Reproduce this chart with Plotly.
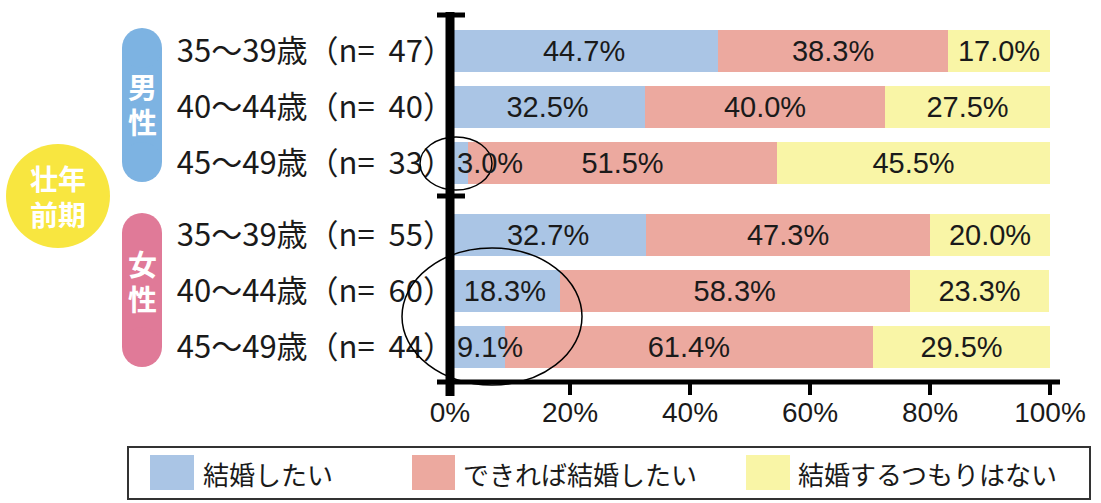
import plotly.graph_objects as go

# ---------------- data ----------------
groups = ["男性", "女性"]
ages = ["35〜39歳", "40〜44歳", "45〜49歳"]
n_counts = [[47, 40, 33], [55, 60, 44]]
series_names = ["結婚したい", "できれば結婚したい", "結婚するつもりはない"]
want = [44.7, 32.5, 3.0, 32.7, 18.3, 9.1]
if_possible = [38.3, 40.0, 51.5, 47.3, 58.3, 61.4]
no_intent = [17.0, 27.5, 45.5, 20.0, 23.3, 29.5]
x_ticks = [0, 20, 40, 60, 80, 100]
x_ticktext = ["0%", "20%", "40%", "60%", "80%", "100%"]
band_label = "壮年<br>前期"

colors = ["#aac5e5", "#eca99f", "#f9f5a6"]
pill_colors = ["#7db3e2", "#e07a98"]

# ---------------- layout geometry (pixels) ----------------
FW, FH = 1101, 503
L, R, T, B = 450, 1050, 15, 382
W, H = R - L, B - T
GAP = 0.29


def px(x):
    return (x - L) / W


def py(y):
    return (B - y) / H


positions = []
labels = []
for g, grp in enumerate(groups):
    for i, age in enumerate(ages):
        positions.append(g * (len(ages) + GAP) + i)
        labels.append(f"{age}（n=\u00a0\u00a0{n_counts[g][i]}）")

PCT_FONT = dict(family="Liberation Sans, Arial, sans-serif", size=29, color="#1a1a1a")

series = [want, if_possible, no_intent]
fig = go.Figure()
annotations = []
for s, (name, vals, col) in enumerate(zip(series_names, series, colors)):
    texts = [f"{v:.1f}%" if v >= 10 else "" for v in vals]
    fig.add_trace(go.Bar(
        y=positions, x=vals, orientation="h", name=name,
        marker=dict(color=col, line=dict(width=0)),
        width=0.75, text=texts, textposition="inside",
        insidetextanchor="middle", textfont=PCT_FONT,
        showlegend=False, hoverinfo="skip",
    ))
    base = [sum(series[k][j] for k in range(s)) for j in range(len(vals))]
    for j, v in enumerate(vals):
        if v < 10:
            annotations.append(dict(
                x=base[j], y=positions[j], xref="x", yref="y", text=f"{v:.1f}%",
                showarrow=False, xanchor="left", yanchor="middle", xshift=5, font=PCT_FONT))

shapes = []
# vertical axis bar and caps
shapes.append(dict(type="line", xref="paper", yref="paper", x0=px(450), x1=px(450),
                   y0=py(12), y1=py(396), line=dict(color="black", width=9)))
for yy in (15, 196):
    shapes.append(dict(type="line", xref="paper", yref="paper", x0=px(437), x1=px(465),
                       y0=py(yy), y1=py(yy), line=dict(color="black", width=5)))
# horizontal axis
shapes.append(dict(type="line", xref="paper", yref="paper", x0=px(437), x1=px(1060),
                   y0=py(382), y1=py(382), line=dict(color="black", width=5)))

# pills with vertical group labels
pill_boxes = [(122, 162, 28, 182), (122, 162, 213, 367)]
pill_char_y = [(86, 121), (263, 298)]
for (x0, x1, y0, y1), col, grp, cys in zip(pill_boxes, pill_colors, groups, pill_char_y):
    r = (x1 - x0) / 2
    shapes.append(dict(type="rect", xref="paper", yref="paper", x0=px(x0), x1=px(x1),
                       y0=py(y1 - r), y1=py(y0 + r), fillcolor=col, line=dict(width=0), layer="below"))
    for cy in (y0 + r, y1 - r):
        shapes.append(dict(type="circle", xref="paper", yref="paper", x0=px(x0), x1=px(x1),
                           y0=py(cy + r), y1=py(cy - r), fillcolor=col, line=dict(width=0), layer="below"))
    for ch, cy in zip(grp, cys):
        annotations.append(dict(x=px((x0 + x1) / 2), y=py(cy), xref="paper", yref="paper",
                                text="<b>" + ch + "</b>", showarrow=False,
                                xanchor="center", yanchor="middle",
                                font=dict(family="Noto Sans CJK JP", size=29, color="white")))

# yellow circle
shapes.append(dict(type="circle", xref="paper", yref="paper", x0=px(6), x1=px(110),
                   y0=py(248), y1=py(144), fillcolor="#f8e640", line=dict(width=0), layer="below"))
annotations.append(dict(x=px(58), y=py(196), xref="paper", yref="paper",
                        text="<b>" + band_label + "</b>", showarrow=False,
                        xanchor="center", yanchor="middle",
                        font=dict(family="Noto Sans CJK JP", size=28, color="white")))

# hand-drawn ellipses
for (x0, x1, y0, y1) in [(420, 492, 137, 190), (402, 582, 248, 385)]:
    shapes.append(dict(type="circle", xref="paper", yref="paper", x0=px(x0), x1=px(x1),
                       y0=py(y1), y1=py(y0), line=dict(color="black", width=1.5), layer="above"))

# legend box
shapes.append(dict(type="rect", xref="paper", yref="paper", x0=px(128), x1=px(1090),
                   y0=py(499), y1=py(447), line=dict(color="#333333", width=2), fillcolor="white"))
legend_x = [(150, 194, 201), (412, 455, 461), (746, 790, 796)]
for (sx0, sx1, tx), col, name in zip(legend_x, colors, series_names):
    shapes.append(dict(type="rect", xref="paper", yref="paper", x0=px(sx0), x1=px(sx1),
                       y0=py(490), y1=py(455), fillcolor=col, line=dict(width=0)))
    annotations.append(dict(x=px(tx), y=py(473), xref="paper", yref="paper", text=name,
                            showarrow=False, xanchor="left", yanchor="middle",
                            font=dict(family="Noto Sans CJK JP", size=26, color="#1a1a1a")))

fig.update_layout(
    width=FW, height=FH, barmode="stack",
    margin=dict(l=L, r=FW - R, t=T, b=FH - B, pad=0),
    paper_bgcolor="white", plot_bgcolor="white",
    uniformtext=dict(minsize=29, mode="show"),
    shapes=shapes, annotations=annotations,
    xaxis=dict(range=[0, 100], tickvals=x_ticks, ticktext=x_ticktext, showgrid=False,
               zeroline=False, showline=False, ticks="outside", ticklen=12, tickwidth=4,
               tickcolor="black", ticklabelstandoff=-7,
               tickfont=dict(family="Liberation Sans, Arial, sans-serif", size=28, color="#1a1a1a")),
    yaxis=dict(range=[positions[-1] + 0.625, -0.643], tickvals=positions, ticktext=labels,
               showgrid=False, zeroline=False, showline=False, ticks="",
               ticklabelstandoff=-5,
               tickfont=dict(family="Noto Sans CJK JP", size=31, color="#1a1a1a")),
)

fig.write_html("out.html", config={"displayModeBar": False},
               post_script="document.body.style.margin='0px';")
